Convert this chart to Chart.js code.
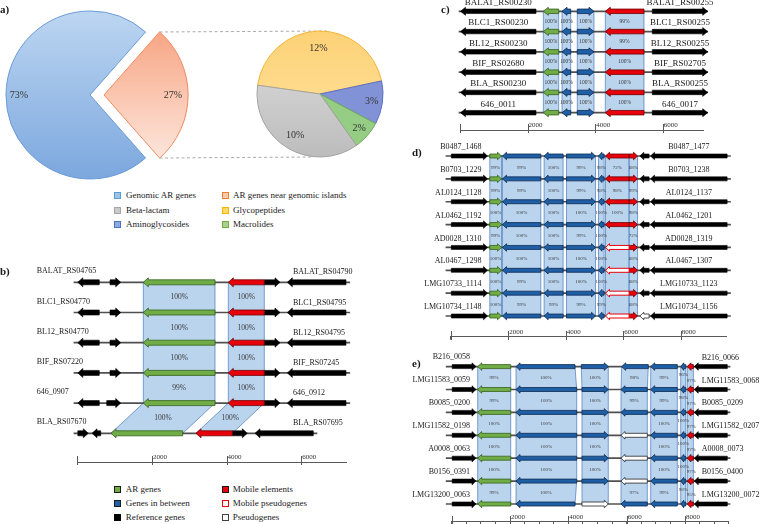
<!DOCTYPE html>
<html>
<head>
<meta charset="utf-8">
<title>AR genes genomic context</title>
<script src="https://cdn.jsdelivr.net/npm/chart.js@4.4.1/dist/chart.umd.min.js"></script>
<style>
  html, body { margin:0; padding:0; background:#ffffff; }
  #fig { position:relative; width:760px; height:524px; overflow:hidden; background:#fff;
         font-family:'Liberation Serif','Times New Roman',Times,serif; color:#1a1a1a; }
  #fig canvas { position:absolute; }
  .plabel { position:absolute; font-weight:bold; font-size:11px; line-height:12px; }
  .leg { position:absolute; font-size:9px; line-height:10px; white-space:nowrap; }
  .sw { position:absolute; width:7px; height:7px; box-sizing:border-box; border:1px solid #000; }
</style>
</head>
<body>
<div id="fig">
  <canvas id="pieMain" width="200" height="190" style="left:0px;top:0px;width:200px;height:190px"></canvas>
  <canvas id="pieSub" width="250" height="150" style="left:150px;top:19px;width:250px;height:150px"></canvas>
  <canvas id="trackB"></canvas>
  <canvas id="trackC"></canvas>
  <canvas id="trackD"></canvas>
  <canvas id="trackE"></canvas>
  <div class="plabel" style="left:0px;top:3px">a)</div>
  <div class="plabel" style="left:0px;top:265px">b)</div>
  <div class="plabel" style="left:441px;top:3px">c)</div>
  <div class="plabel" style="left:412px;top:146px">d)</div>
  <div class="plabel" style="left:412px;top:357px">e)</div>
</div>
<script>
// ======================= DATA =======================
// Panel a : pies
const arShareLabels = ['AR genes near genomic islands', 'Genomic AR genes'];
const arShareValues = [27, 73];
const classLabels = ['Glycopeptides', 'Aminoglycosides', 'Macrolides', 'Beta-lactam'];
const classValues = [12, 3, 2, 10];

// ruler tick labels (bp)
const rulerLabels = [2000, 4000, 6000, 8000];

// Gene codes: R reference, A AR gene, M gene in between, E mobile element,
//             P mobile pseudogene, W pseudogene.  Each gene = [from, to] in bp (arrow points to "to").
// Panel b
const bLeftLabels  = ['BALAT_RS04765','BLC1_RS04770','BL12_RS04770','BIF_RS07220','646_0907','BLA_RS07670'];
const bRightLabels = ['BALAT_RS04790','BLC1_RS04795','BL12_RS04795','BIF_RS07245','646_0912','BLA_RS07695'];
const bGenes = [
  [[589,0],[876,1163],[3689,1768],[5009,4045],[5009,5430],[7198,5626]],
  [[589,0],[876,1163],[3689,1768],[5009,4045],[5009,5430],[7198,5626]],
  [[589,0],[876,1163],[3689,1768],[5009,4045],[5009,5430],[7198,5626]],
  [[589,0],[876,1163],[3689,1768],[5009,4045],[5009,5430],[7198,5626]],
  [[589,0],[788,1163],[3689,1768],[5009,4045],[5009,5430],[7198,5626]],
  [[0,295],[627,394],[2823,903],[4152,3180],[4152,4554],[6322,4760]]
];
const bTypes = ['R R A E R R','R R A E R R','R R A E R R','R R A E R R','R R A E R R','R R A E R R'];
const bSpans = [[-90,7300],[-90,7300],[-90,7300],[-90,7300],[-90,7300],[-90,6420]];
const bIdentSlots = [2, 3];
const bIdentity = [[100,100,100,99,100],[100,100,100,100,100]];

// Panel c
const cLeftLabels  = ['BALAT_RS00230','BLC1_RS00230','BL12_RS00230','BIF_RS02680','BLA_RS00230','646_0011'];
const cRightLabels = ['BALAT_RS00255','BLC1_RS00255','BL12_RS00255','BIF_RS02705','BLA_RS00255','646_0017'];
const cGenes = [
  [[2249,0],[2920,2465],[3275,3018],[3470,3964],[5444,4299],[5689,7328]],
  [[2249,0],[2920,2465],[3275,3018],[3470,3964],[5444,4299],[5689,7328]],
  [[2249,0],[2920,2465],[3275,3018],[3470,3964],[5444,4299],[5689,7328]],
  [[2249,0],[2920,2465],[3275,3018],[3470,3964],[5444,4299],[5689,7328]],
  [[2249,0],[2920,2465],[3275,3018],[3470,3964],[5444,4299],[5689,7328]],
  [[2249,0],[2920,2465],[3275,3018],[3470,3964],[5444,4299],[5689,7328]]
];
const cTypes = ['R A M M E R','R A M M E R','R A M M E R','R A M M E R','R A M M E R','R A M M E R'];
const cSpans = [[-30,7330],[-30,7330],[-30,7330],[-30,7330],[-30,7330],[-30,7330]];
const cIdentSlots = [1, 2, 3, 4];
const cIdentity = [[100,100,100,100,100],[100,100,100,100,100],[100,100,100,100,100],[99,99,100,100,100]];

// Panel d
const dLeftLabels  = ['B0487_1468','B0703_1229','AL0124_1128','AL0462_1192','AD0028_1310','AL0467_1298','LMG10733_1114','LMG10734_1148'];
const dRightLabels = ['B0487_1477','B0703_1238','AL0124_1137','AL0462_1201','AD0028_1319','AL0467_1307','LMG10733_1123','LMG10734_1156'];
const dGenes = [
  [[0,1277],[1357,1765],[3133,1800],[3909,3247],[4027,5036],[5336,5141],[6206,5385],[6206,6498],[6902,6578],[9617,6951]],
  [[0,1277],[1357,1765],[3133,1800],[3909,3247],[4027,5036],[5336,5141],[6206,5385],[6206,6498],[6902,6578],[9617,6951]],
  [[0,1277],[1357,1765],[3133,1800],[3909,3247],[4027,5036],[5336,5141],[6206,5385],[6206,6498],[6902,6578],[9617,6951]],
  [[0,1277],[1357,1765],[3133,1800],[3909,3247],[4027,5036],[5336,5141],[6206,5385],[6206,6498],[6902,6578],[9617,6951]],
  [[0,1277],[1357,1765],[3133,1800],[3909,3247],[4027,5036],[5336,5141],[6206,5385],[6206,6498],[6902,6578],[9617,6951]],
  [[0,1277],[1357,1765],[3133,1800],[3909,3247],[4027,5036],[5336,5141],[6206,5385],[6206,6498],[6902,6578],[9617,6951]],
  [[0,1277],[1357,1765],[3133,1800],[3909,3247],[4027,5036],[5336,5141],[6206,5385],[6206,6498],[6902,6578],[9617,6951]],
  [[0,1277],[1357,1765],[3133,1800],[3909,3247],[4027,5036],[5336,5141],[6206,5385],[6206,6498],[6902,6578],[9617,6951]]
];
const dTypes = ['R A M M M M E E R R','R A M M M M E E R R','R A M M M M E E R R','R A M M M M E E R R',
                'R A M M M M P E R R','R A M M M M P E R R','R A M M M M P E R R','R A M M M M P E W R'];
const dSpans = [[-170,9735],[-170,9735],[-170,9735],[-170,9735],[-170,9735],[-170,9735],[-170,9735],[-170,9735]];
const dIdentSlots = [1, 2, 3, 4, 5, 6, 7];
const dIdentity = [
  [99,99,100,99,100,100,100],
  [99,99,100,100,100,99,99],
  [100,100,100,100,100,100,99],
  [99,99,100,99,100,100,99],
  [98,98,100,100,100,100,99],
  [72,98,100,'','','',''],
  [68,99,98,72,68,68,68]
];

// Panel e
const eLeftLabels  = ['B216_0058','LMG11583_0059','B0085_0200','LMG11582_0198','A0008_0063','B0156_0391','LMG13200_0063'];
const eRightLabels = ['B216_0066','LMG11583_0068','B0085_0209','LMG11582_0207','A0008_0073','B0156_0400','LMG13200_0072'];
const eGenes = [
  [[0,834],[2024,892],[4228,2206],[4445,5370],[6741,5829],[7736,6824],[8024,7853],[8286,8079],[9450,8317]],
  [[0,834],[2024,892],[4287,2206],[4468,5370],[6707,5806],[7736,6824],[8024,7853],[8286,8079],[9450,8317]],
  [[0,834],[2024,892],[4287,2206],[4468,5370],[6707,5806],[7736,6824],[8024,7853],[8286,8079],[9450,8317]],
  [[0,834],[2024,892],[4287,2206],[4468,5370],[6707,5806],[7736,6824],[8024,7853],[8286,8079],[9450,8317]],
  [[0,834],[2024,892],[4287,2206],[4468,5370],[6707,5806],[7736,6824],[8024,7853],[8286,8079],[9450,8317]],
  [[0,834],[2024,892],[4287,2206],[4468,5370],[6707,5806],[7736,6824],[8024,7853],[8286,8079],[9450,8317]],
  [[0,834],[2024,892],[4228,2206],[4468,5370],[6707,5806],[7736,6824],[8024,7853],[8286,8079],[9450,8317]]
];
const eTypes = ['R A M M M M M E R','R A M M M M M E R','R A M M M M M E R','R A M M W M M E R',
                'R A M M W M M E R','R A M M W M M E R','R A M W M M M E R'];
const eSpans = [[-190,9545],[-190,9545],[-190,9545],[-190,9545],[-190,9545],[-190,9545],[-190,9545]];
const eIdentSlots = [1, 2, 3, 4, 5, 6, 7];
const eIdentity = [
  [99,99,100,100,100,99],
  [100,100,100,100,100,100],
  [100,100,100,100,100,''],
  [98,99,'','','',97],
  [99,99,100,100,100,99],
  [96,98,100,100,100,98],
  [97,97,97,97,97,95]
];

// Legends
const legendA = [
  ['Genomic AR genes', '#9dc3e6', '#5b9bd5'], ['AR genes near genomic islands', '#f8cbad', '#ed7d31'],
  ['Beta-lactam', '#c9c9c9', '#a5a5a5'],      ['Glycopeptides', '#ffd966', '#f4b400'],
  ['Aminoglycosides', '#8faadc', '#4472c4'],  ['Macrolides', '#a9d18e', '#70ad47']
];
const legendB = [
  ['AR genes', '#70ad47', '#1a1a1a'],         ['Mobile elements', '#e8000b', '#1a1a1a'],
  ['Genes in between', '#1f5fa6', '#1a1a1a'], ['Mobile pseudogenes', '#ffffff', '#e8000b'],
  ['Reference genes', '#000000', '#000000'],  ['Pseudogenes', '#ffffff', '#404040']
];

// ======================= RENDER =======================
const FONT = "'Liberation Serif', 'Times New Roman', Times, serif";
Chart.defaults.font.family = FONT;

function buildLegend(items, colX, rowY) {
  const fig = document.getElementById('fig');
  items.forEach((it, n) => {
    const col = n % 2, row = Math.floor(n / 2);
    const sw = document.createElement('span');
    sw.className = 'sw';
    sw.style.left = colX[col][0] + 'px';
    sw.style.top = (rowY[row] - 3.5) + 'px';
    sw.style.background = it[1];
    sw.style.borderColor = it[2];
    fig.appendChild(sw);
    const t = document.createElement('div');
    t.className = 'leg';
    t.textContent = it[0];
    t.style.left = colX[col][1] + 'px';
    t.style.top = (rowY[row] - 5.5) + 'px';
    fig.appendChild(t);
  });
}
buildLegend(legendA, [[114, 126], [221.5, 233]], [195, 210, 224.3]);
buildLegend(legendB, [[113.5, 125.7], [221.5, 232.7]], [489.3, 503.3, 517.7]);

function vGrad(chart, stops) {
  const g = chart.ctx.createLinearGradient(0, 0, 0, chart.height);
  stops.forEach(s => g.addColorStop(s[0], s[1]));
  return g;
}

const pieLabels = {
  id: 'pieLabels',
  afterDatasetsDraw(chart, args, opts) {
    const ctx = chart.ctx;
    const meta = chart.getDatasetMeta(0);
    const vals = chart.data.datasets[0].data;
    ctx.save();
    ctx.font = opts.size + 'px ' + FONT;
    ctx.fillStyle = '#333333';
    ctx.textAlign = 'center';
    ctx.textBaseline = 'middle';
    meta.data.forEach((el, i) => {
      const mid = (el.startAngle + el.endAngle) / 2;
      const off = (el.options.offset || 0) / 4;
      const r = el.outerRadius * opts.factor[i] + off;
      ctx.fillText(vals[i] + '%', el.x + Math.cos(mid) * r, el.y + Math.sin(mid) * r);
    });
    ctx.restore();
  }
};

window.bigPie = new Chart(document.getElementById('pieMain'), {
  type: 'pie',
  data: {
    labels: arShareLabels,
    datasets: [{
      data: arShareValues,
      backgroundColor: (c) => c.dataIndex === 0
        ? vGrad(c.chart, [[0.15, '#f7a482'], [0.85, '#fde7de']])
        : vGrad(c.chart, [[0.05, '#bdd6f1'], [0.95, '#7ba7de']]),
      borderColor: ['#ef8a5e', '#6b9bd6'],
      borderWidth: 1,
      offset: [56, 0],
      clip: false
    }]
  },
  options: {
    responsive: false, animation: false, events: [], devicePixelRatio: 1,
    rotation: 41.4, radius: 84,
    layout: { padding: { left: 0, right: 20, top: 0, bottom: 0 } },
    plugins: { legend: { display: false }, tooltip: { enabled: false },
               pieLabels: { size: 10, factor: [0.82, 0.845] } }
  },
  plugins: [pieLabels]
});

const connector = {
  id: 'connector',
  beforeDatasetsDraw(chart) {
    const big = window.bigPie;
    if (!big) return;
    const ctx = chart.ctx;
    const el = big.getDatasetMeta(0).data[0];
    const off = (el.options.offset || 0) / 4;
    const mid = (el.startAngle + el.endAngle) / 2;
    const dx = big.canvas.offsetLeft - chart.canvas.offsetLeft;
    const dy = big.canvas.offsetTop - chart.canvas.offsetTop;
    const ax = el.x + Math.cos(mid) * off + dx, ay = el.y + Math.sin(mid) * off + dy;
    const R = el.outerRadius;
    const s = chart.getDatasetMeta(0).data[0];
    ctx.save();
    ctx.setLineDash([3, 2.5]);
    ctx.strokeStyle = '#a9a9a9';
    ctx.lineWidth = 1;
    ctx.beginPath();
    ctx.moveTo(ax + Math.cos(el.startAngle) * R, ay + Math.sin(el.startAngle) * R);
    ctx.lineTo(s.x + 7, s.y - s.outerRadius);
    ctx.moveTo(ax + Math.cos(el.endAngle) * R, ay + Math.sin(el.endAngle) * R);
    ctx.lineTo(s.x - 7, s.y + s.outerRadius);
    ctx.stroke();
    ctx.restore();
  }
};

new Chart(document.getElementById('pieSub'), {
  type: 'pie',
  data: {
    labels: classLabels,
    datasets: [{
      data: classValues,
      backgroundColor: (c) => [
        vGrad(c.chart, [[0.1, '#fdd277'], [0.9, '#ffe4a3']]),
        '#8193d6',
        '#96cd85',
        vGrad(c.chart, [[0.3, '#d6d6d6'], [1, '#b9b9b9']])
      ][c.dataIndex],
      borderColor: ['#f2b63a', '#5a6fc3', '#6eaa5b', '#a3a3a3'],
      borderWidth: 1,
      clip: false
    }]
  },
  options: {
    responsive: false, animation: false, events: [], devicePixelRatio: 1,
    rotation: -82, radius: 63,
    layout: { padding: { left: 90, right: 0, top: 0, bottom: 0 } },
    plugins: { legend: { display: false }, tooltip: { enabled: false },
               pieLabels: { size: 10, factor: [0.72, 0.83, 0.83, 0.76] } }
  },
  plugins: [connector, pieLabels]
});

// ---------- gene tracks ----------
const geneStyle = {
  R: { fill: '#000000', stroke: '#000000', lw: 0.6 },
  A: { fill: '#70ad47', stroke: '#35611c', lw: 0.8 },
  M: { fill: '#1f5fa6', stroke: '#0d2b52', lw: 0.8 },
  E: { fill: '#e8000b', stroke: '#6e0000', lw: 0.8 },
  P: { fill: '#ffffff', stroke: '#e8000b', lw: 1 },
  W: { fill: '#ffffff', stroke: '#3a3a3a', lw: 0.9 }
};

function arrowPath(ctx, l, r, y, dir, bh, hh, hl) {
  const w = r - l;
  const h = Math.min(hl, w * 0.6);
  ctx.beginPath();
  if (dir > 0) {
    ctx.moveTo(l, y - bh / 2); ctx.lineTo(r - h, y - bh / 2); ctx.lineTo(r - h, y - hh / 2);
    ctx.lineTo(r, y); ctx.lineTo(r - h, y + hh / 2); ctx.lineTo(r - h, y + bh / 2); ctx.lineTo(l, y + bh / 2);
  } else {
    ctx.moveTo(r, y - bh / 2); ctx.lineTo(l + h, y - bh / 2); ctx.lineTo(l + h, y - hh / 2);
    ctx.lineTo(l, y); ctx.lineTo(l + h, y + hh / 2); ctx.lineTo(l + h, y + bh / 2); ctx.lineTo(r, y + bh / 2);
  }
  ctx.closePath();
}

function extent(el) { return [Math.min(el.x, el.base), Math.max(el.x, el.base)]; }

function trackPlugin(D, L) {
  return {
    id: 'tracks',
    beforeDatasetsDraw(chart) {
      const ctx = chart.ctx;
      ctx.save();
      D.identSlots.forEach((k) => {
        const els = chart.getDatasetMeta(k).data;
        for (let i = 0; i < els.length - 1; i++) {
          const [al, ar] = extent(els[i]);
          const [bl, br] = extent(els[i + 1]);
          const ya = els[i].y, yb = els[i + 1].y;
          ctx.beginPath();
          ctx.moveTo(al, ya); ctx.lineTo(ar, ya); ctx.lineTo(br, yb); ctx.lineTo(bl, yb); ctx.closePath();
          ctx.fillStyle = 'rgba(160,196,232,0.72)';
          ctx.fill();
          ctx.beginPath();
          ctx.moveTo(al, ya); ctx.lineTo(bl, yb);
          ctx.moveTo(ar, ya); ctx.lineTo(br, yb);
          ctx.strokeStyle = 'rgba(68,118,184,0.85)';
          ctx.lineWidth = 0.8;
          ctx.stroke();
        }
      });
      ctx.restore();
    },
    beforeDatasetDraw(chart, args) {
      const ds = chart.data.datasets[args.index];
      if (!ds.isGene) return;
      const ctx = chart.ctx;
      ctx.save();
      args.meta.data.forEach((el, i) => {
        const raw = ds.data[i];
        const st = geneStyle[raw.t];
        const [l, r] = extent(el);
        const dir = raw.x[1] > raw.x[0] ? 1 : -1;
        arrowPath(ctx, l, r, el.y, dir, L.bh, L.hh, L.hl);
        ctx.fillStyle = st.fill;
        ctx.fill();
        ctx.strokeStyle = st.stroke;
        ctx.lineWidth = st.lw;
        ctx.lineJoin = 'miter';
        ctx.stroke();
      });
      ctx.restore();
      return false;
    },
    afterDatasetsDraw(chart) {
      const ctx = chart.ctx;
      ctx.save();
      // identity labels
      ctx.font = L.pctFont + 'px ' + FONT;
      ctx.fillStyle = '#3a3a3a';
      ctx.textAlign = 'center';
      ctx.textBaseline = 'middle';
      D.identSlots.forEach((k, ci) => {
        const els = chart.getDatasetMeta(k).data;
        const sh = (L.pctShift && L.pctShift[k]) || [0, 0];
        for (let i = 0; i < els.length - 1; i++) {
          const v = D.identity[ci][i];
          if (v === '') continue;
          const [al, ar] = extent(els[i]);
          const [bl, br] = extent(els[i + 1]);
          const x = (al + ar + bl + br) / 4 + sh[0];
          const y = (els[i].y + els[i + 1].y) / 2 + sh[1];
          ctx.fillText(v + '%', x, y);
        }
      });
      // row labels
      ctx.font = L.labFont + 'px ' + FONT;
      ctx.fillStyle = '#1a1a1a';
      const place = (text, cfg, i) => {
        const el = chart.getDatasetMeta(cfg.slot !== undefined ? cfg.slot : 0).data[i];
        let x;
        if (cfg.x !== undefined) {
          x = cfg.x - L.left;
        } else {
          const [l, r] = extent(el);
          x = (cfg.edge === 'center' ? (l + r) / 2 : cfg.edge === 'left' ? l : r) + (cfg.dx || 0);
        }
        ctx.textAlign = cfg.align;
        ctx.fillText(text, x, el.y + cfg.dy);
      };
      D.leftLabels.forEach((t, i) => place(t, L.leftLab, i));
      D.rightLabels.forEach((t, i) => place(t, L.rightLab, i));
      ctx.restore();
    },
    afterDraw(chart) {
      // ruler: taller major ticks and their labels, placed with the x scale
      const xs = chart.scales.x;
      const ctx = chart.ctx;
      const y = Math.round(xs.top);
      const majors = [0].concat(rulerLabels).filter(v => v <= xs.max);
      ctx.save();
      ctx.strokeStyle = '#595959';
      ctx.lineWidth = 1;
      majors.forEach(v => {
        const px = Math.round(xs.getPixelForValue(v)) + 0.5;
        ctx.beginPath();
        ctx.moveTo(px, y + 3);
        ctx.lineTo(px, y - 6);
        ctx.stroke();
      });
      ctx.font = '7px ' + FONT;
      ctx.fillStyle = '#333333';
      ctx.textAlign = 'left';
      ctx.textBaseline = 'middle';
      rulerLabels.filter(v => v <= xs.max).forEach(v => {
        ctx.fillText(String(v), xs.getPixelForValue(v) + 1, y - 5);
      });
      ctx.restore();
    }
  };
}

function makeTrack(canvasId, D, L) {
  const cv = document.getElementById(canvasId);
  cv.width = L.width; cv.height = L.height;
  cv.style.left = L.left + 'px'; cv.style.top = L.top + 'px';
  cv.style.width = L.width + 'px'; cv.style.height = L.height + 'px';
  const types = D.types.map(t => t.split(' '));
  const nSlots = D.genes[0].length;
  const datasets = [];
  for (let k = 0; k < nSlots; k++) {
    datasets.push({
      label: 'gene slot ' + k, isGene: true,
      data: D.genes.map((row, i) => ({ x: row[k], y: i, t: types[i][k] })),
      barThickness: L.hh, grouped: false, clip: false, backgroundColor: '#000', borderWidth: 0
    });
  }
  datasets.push({
    label: 'contig', data: D.spans.map((sp, i) => ({ x: sp, y: i })),
    barThickness: 1, grouped: false, clip: false, backgroundColor: '#505050', borderWidth: 0
  });
  const lx0 = L.x0 - L.left;
  const lx1 = lx0 + L.xmax * L.ppb;
  const ymax = (L.rulerY - L.y0) / L.s;
  const padding = {
    left: lx0, right: L.width - lx1,
    top: (L.y0 + L.ymin * L.s) - L.top,
    bottom: L.height - (L.rulerY - L.top) - L.axisH
  };
  return new Chart(cv, {
    type: 'bar',
    data: { datasets },
    options: {
      responsive: false, animation: false, events: [], devicePixelRatio: 1,
      indexAxis: 'y',
      layout: { padding },
      plugins: { legend: { display: false }, tooltip: { enabled: false } },
      scales: {
        x: {
          type: 'linear', position: 'bottom', min: 0, max: L.xmax, offset: false, bounds: 'data',
          afterFit: (s) => { s.height = L.axisH; },
          border: { display: true, color: '#595959', width: 1 },
          grid: { display: true, drawOnChartArea: false, drawTicks: true, tickLength: 3, tickWidth: 1,
                  tickColor: (c) => (c.tick && c.tick.value % 500 === 0) ? '#595959' : 'rgba(0,0,0,0)' },
          ticks: {
            display: false, stepSize: 500, autoSkip: false, maxRotation: 0, minRotation: 0,
            includeBounds: false, maxTicksLimit: 100, font: { family: FONT, size: 7 }
          }
        },
        y: { type: 'linear', display: false, reverse: true, min: L.ymin, max: ymax, offset: false }
      }
    },
    plugins: [trackPlugin(D, L)]
  });
}

makeTrack('trackB',
  { genes: bGenes, types: bTypes, spans: bSpans, identSlots: bIdentSlots, identity: bIdentity,
    leftLabels: bLeftLabels, rightLabels: bRightLabels },
  { left: 0, top: 255, width: 380, height: 219, x0: 77.3, ppb: 0.03733, xmax: 7200,
    y0: 282.3, s: 30.2, ymin: -0.8, rulerY: 462, axisH: 10,
    bh: 5, hh: 9, hl: 5, labFont: 8, pctFont: 7.5,
    leftLab: { x: 36.7, align: 'left', dy: -11 }, rightLab: { x: 293, align: 'left', dy: -10 } });

makeTrack('trackC',
  { genes: cGenes, types: cTypes, spans: cSpans, identSlots: cIdentSlots, identity: cIdentity,
    leftLabels: cLeftLabels, rightLabels: cRightLabels },
  { left: 440, top: 0, width: 320, height: 142, x0: 460, ppb: 0.0338, xmax: 7200,
    y0: 11.3, s: 20.28, ymin: -0.55, rulerY: 130, axisH: 10,
    bh: 4.5, hh: 8, hl: 5, labFont: 9, pctFont: 5.5,
    leftLab: { slot: 0, edge: 'center', align: 'center', dy: -8.5 },
    rightLab: { slot: 5, edge: 'center', align: 'center', dy: -8.5 } });

makeTrack('trackD',
  { genes: dGenes, types: dTypes, spans: dSpans, identSlots: dIdentSlots, identity: dIdentity,
    leftLabels: dLeftLabels, rightLabels: dRightLabels },
  { left: 400, top: 136, width: 360, height: 213, x0: 450.8, ppb: 0.028733, xmax: 9600,
    y0: 156, s: 22.86, ymin: -0.75, rulerY: 336.7, axisH: 10,
    bh: 4, hh: 7.5, hl: 4, labFont: 8, pctFont: 5,
    leftLab: { slot: 0, edge: 'right', dx: -6, align: 'right', dy: -9 },
    rightLab: { slot: 9, edge: 'center', align: 'center', dy: -9 } });

makeTrack('trackE',
  { genes: eGenes, types: eTypes, spans: eSpans, identSlots: eIdentSlots, identity: eIdentity,
    leftLabels: eLeftLabels, rightLabels: eRightLabels },
  { left: 400, top: 348, width: 360, height: 176, x0: 451.67, ppb: 0.029167, xmax: 9500,
    y0: 366.6, s: 22.9, ymin: -0.7, rulerY: 521.5, axisH: 2.5,
    bh: 4, hh: 7.5, hl: 4, labFont: 8, pctFont: 5,
    pctShift: { 6: [0, -3], 7: [1, 2.5] },
    leftLab: { slot: 0, edge: 'right', dx: -6, align: 'right', dy: -9.5 },
    rightLab: { slot: 8, edge: 'left', dx: 7.5, align: 'left', dy: -9 } });
</script>
</body>
</html>
